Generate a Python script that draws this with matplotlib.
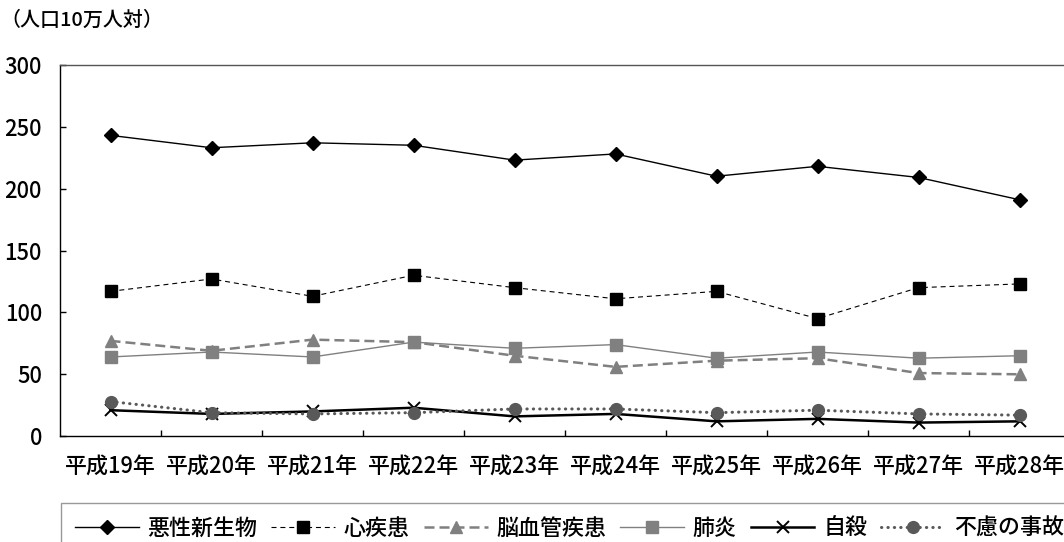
import matplotlib
matplotlib.use("Agg")
import matplotlib.pyplot as plt
from matplotlib.ticker import FixedLocator

plt.rcParams['font.family'] = ['Noto Sans CJK JP', 'DejaVu Sans']
plt.rcParams['font.weight'] = 'medium'

categories = ["平成19年", "平成20年", "平成21年", "平成22年", "平成23年",
              "平成24年", "平成25年", "平成26年", "平成27年", "平成28年"]
malignant = [243, 233, 237, 235, 223, 228, 210, 218, 209, 191]
heart = [117, 127, 113, 130, 120, 111, 117, 95, 120, 123]
cerebro = [77, 69, 78, 76, 65, 56, 61, 63, 51, 50]
pneumonia = [64, 68, 64, 76, 71, 74, 63, 68, 63, 65]
suicide = [21, 18, 20, 23, 16, 18, 12, 14, 11, 12]
accident = [28, 19, 18, 19, 22, 22, 19, 21, 18, 17]
series_names = ["悪性新生物", "心疾患", "脳血管疾患", "肺炎", "自殺", "不慮の事故"]
yticks = [0, 50, 100, 150, 200, 250, 300]
unit_label = "（人口10万人対）"

W, H = 1064, 542
fig = plt.figure(figsize=(W / 100, H / 100), dpi=100)
ax = fig.add_axes([60 / W, 1 - 436.2 / H, 1010 / W, (436.2 - 64.8) / H])

x = list(range(len(categories)))
fs = 15.8

ax.plot(x, malignant, color='black', lw=1.0, marker='D', ms=7.3,
        mfc='black', mec='black', label=series_names[0])
ax.plot(x, heart, color='black', lw=0.8, ls=(0, (4.5, 3.5)), marker='s', ms=8.5,
        mfc='black', mec='black', label=series_names[1])
ax.plot(x, cerebro, color='#808080', lw=1.8, ls=(0, (4, 2)), marker='^', ms=8.5,
        mfc='#808080', mec='#808080', label=series_names[2])
ax.plot(x, pneumonia, color='#808080', lw=1.0, marker='s', ms=8.5,
        mfc='#808080', mec='#808080', label=series_names[3])
ax.plot(x, suicide, color='black', lw=1.8, marker='x', ms=9, mew=1.4,
        mfc='black', mec='black', label=series_names[4])
ax.plot(x, accident, color='#595959', lw=2.2, ls=(0, (0.1, 2.0)),
        dash_capstyle='round', marker='o', ms=8.5,
        mfc='#595959', mec='#595959', label=series_names[5])

ax.set_xlim(-0.5, len(categories) - 0.5)
ax.set_ylim(0, 300)
ax.set_yticks(yticks)
ax.set_yticklabels([str(v) for v in yticks], fontsize=fs)
ax.set_xticks(x)
ax.set_xticklabels(categories, fontsize=fs)
ax.xaxis.set_minor_locator(FixedLocator([i + 0.5 for i in range(len(categories) - 1)]))
ax.tick_params(axis='x', which='major', length=0, pad=14)
ax.tick_params(axis='x', which='minor', direction='in', length=4.3, width=1.0, color='black')
ax.tick_params(axis='y', which='major', direction='in', length=4.3, width=1.0,
               color='black', pad=13)

ax.spines['left'].set_color('black')
ax.spines['left'].set_linewidth(1.0)
ax.spines['bottom'].set_color('black')
ax.spines['bottom'].set_linewidth(1.0)
ax.spines['top'].set_color('#555555')
ax.spines['top'].set_linewidth(1.0)
ax.spines['right'].set_color('#555555')

fig.text(0.5 / W, 1 - 20 / H, unit_label, fontsize=14.4, ha='left', va='center')

leg = ax.legend(loc='upper left', bbox_to_anchor=(60.7 / W, 1 - 502.7 / H),
                bbox_transform=fig.transFigure, ncol=6, fontsize=fs,
                frameon=True, fancybox=False, shadow=False, borderaxespad=0,
                borderpad=0.65, handlelength=2.9, handletextpad=0.4,
                columnspacing=0.64, numpoints=1)
leg.get_frame().set_edgecolor('#808080')
leg.get_frame().set_linewidth(1.0)

fig.savefig('out.png', dpi=100)
